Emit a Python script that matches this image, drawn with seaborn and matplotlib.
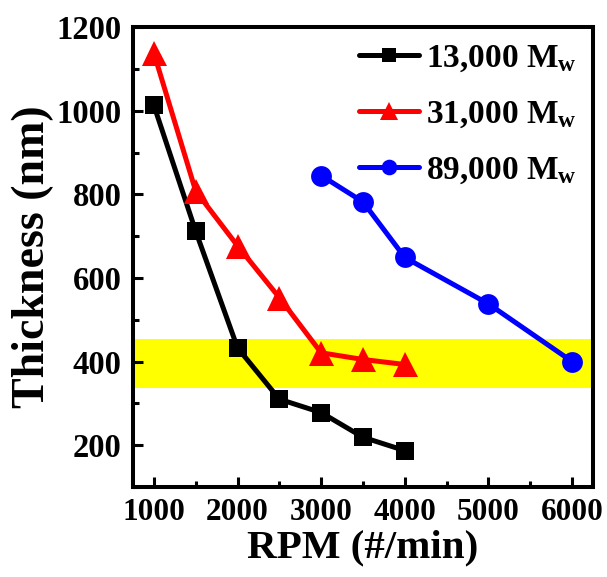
import matplotlib
matplotlib.use("Agg")
import matplotlib.pyplot as plt
import seaborn as sns
import pandas as pd
from matplotlib.ticker import MultipleLocator

rpm_13k = [1000, 1500, 2000, 2500, 3000, 3500, 4000]
thk_13k = [1013, 712, 433, 310, 278, 219, 187]
rpm_31k = [1000, 1500, 2000, 2500, 3000, 3500, 4000]
thk_31k = [1138, 808, 677, 553, 421, 405, 393]
rpm_89k = [3000, 3500, 4000, 5000, 6000]
thk_89k = [845, 782, 649, 538, 400]
series_names = ["13,000 M$_{\\rm w}$", "31,000 M$_{\\rm w}$", "89,000 M$_{\\rm w}$"]
band_low, band_high = 337, 454

sns.set_style("ticks")
plt.rcParams["font.family"] = ["Liberation Serif", "DejaVu Serif"]
plt.rcParams["font.weight"] = "bold"
plt.rcParams["mathtext.fontset"] = "custom"
plt.rcParams["mathtext.rm"] = "Liberation Serif:bold"
plt.rcParams["mathtext.it"] = "Liberation Serif:bold"
plt.rcParams["mathtext.bf"] = "Liberation Serif:bold"
for k in ["text.color", "axes.labelcolor", "xtick.color", "ytick.color", "axes.edgecolor"]:
    plt.rcParams[k] = "black"

df = pd.concat([
    pd.DataFrame({"RPM": rpm_13k, "Thickness": thk_13k, "Series": series_names[0]}),
    pd.DataFrame({"RPM": rpm_31k, "Thickness": thk_31k, "Series": series_names[1]}),
    pd.DataFrame({"RPM": rpm_89k, "Thickness": thk_89k, "Series": series_names[2]}),
])

fig = plt.figure(figsize=(6.07, 5.77), dpi=100)
ax = fig.add_axes([0.219, 0.156, 0.758, 0.797])

ax.axhspan(band_low, band_high, color="#ffff00", zorder=0, lw=0)

colors = {series_names[0]: "black", series_names[1]: "#ff0000", series_names[2]: "#0000ff"}
markers = {series_names[0]: "s", series_names[1]: "^", series_names[2]: "o"}
sizes = {series_names[0]: 13.5, series_names[1]: 18, series_names[2]: 15}
for name in series_names:
    sub = df[df["Series"] == name]
    sns.lineplot(data=sub, x="RPM", y="Thickness", ax=ax, color=colors[name],
                 marker=markers[name], markersize=sizes[name], markeredgewidth=0,
                 linewidth=3.6, label=name, zorder=3)

ax.set_xlim(750, 6250)
ax.set_ylim(100, 1200)
ax.xaxis.set_major_locator(MultipleLocator(1000))
ax.xaxis.set_minor_locator(MultipleLocator(500))
ax.yaxis.set_major_locator(MultipleLocator(200))
ax.yaxis.set_minor_locator(MultipleLocator(100))
ax.tick_params(which="both", direction="in", width=2.2, pad=8)
ax.tick_params(axis="x", labelsize=22.5)
ax.tick_params(axis="y", labelsize=23.5)
ax.tick_params(which="major", length=7.5)
ax.tick_params(which="minor", length=4)
for s in ax.spines.values():
    s.set_linewidth(2.9)
    s.set_visible(True)
for lab in ax.get_xticklabels() + ax.get_yticklabels():
    lab.set_fontweight("bold")

ax.set_xlabel("RPM (#/min)", fontsize=29.5, fontweight="bold", labelpad=2)
ax.set_ylabel("Thickness (nm)", fontsize=33, fontweight="bold", labelpad=0)
ax.yaxis.set_label_coords(-0.172, 0.5)

leg = ax.legend(loc="upper right", frameon=False, fontsize=24, handlelength=1.8,
                labelspacing=0.75, handletextpad=0.2, borderaxespad=0.1,
                bbox_to_anchor=(1.0, 1.003), markerscale=0.75)
for t in leg.get_texts():
    t.set_fontweight("bold")

fig.savefig("out.png", dpi=100)
